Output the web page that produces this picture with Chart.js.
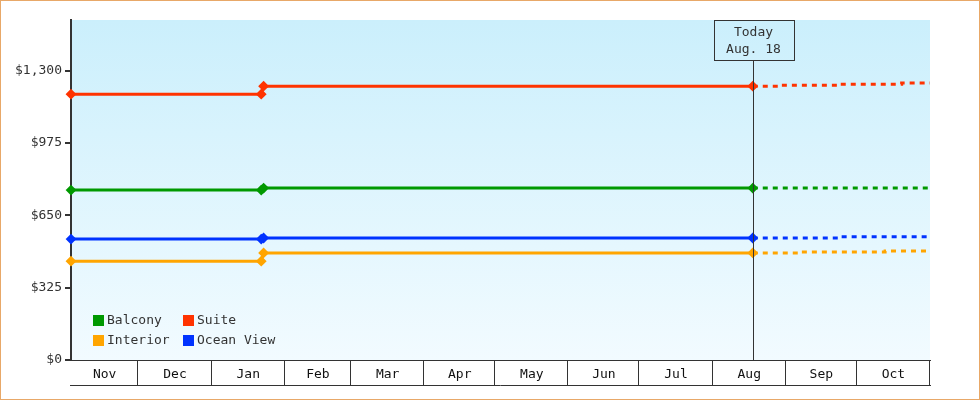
<!DOCTYPE html>
<html>
<head>
<meta charset="utf-8">
<script src="https://cdn.jsdelivr.net/npm/chart.js@4.4.1/dist/chart.umd.min.js"></script>
<style>
  html, body { margin: 0; padding: 0; background: #ffffff; }
  #wrap { width: 980px; height: 400px; }
</style>
</head>
<body>
<div id="wrap"><canvas id="c" width="980" height="400"></canvas></div>
<script>
// ---------- data ----------
const monthLabels = ['Nov', 'Dec', 'Jan', 'Feb', 'Mar', 'Apr', 'May', 'Jun', 'Jul', 'Aug', 'Sep', 'Oct'];
const monthDays = [30, 31, 31, 28, 31, 30, 31, 30, 31, 31, 30, 31];
const xStartDay = 1.5;   // axis starts a little after Nov 1

const yTickValues = [0, 325, 650, 975, 1300];
const yTickLabels = ['$0', '$325', '$650', '$975', '$1,300'];
const yMax = 1527;

const seriesNames = ['Balcony', 'Suite', 'Interior', 'Ocean View'];
const seriesColors = ['#009900', '#ff3300', '#ffa500', '#0033ff'];

// history (day offset from Nov 1)
const historyDays = [1.5, 82, 83, 290];
const balcony = [763, 763, 772, 772];
const suite = [1194, 1194, 1230, 1230];
const interior = [444, 444, 481, 481];
const oceanView = [543, 543, 548, 548];

// projections (dashed, after today)
const balconyProjDays = [290, 365];
const balconyProj = [772, 772];
const suiteProjDays = [290, 302, 327, 353, 365];
const suiteProj = [1230, 1234, 1239, 1244, 1244];
const interiorProjDays = [290, 310, 346, 365];
const interiorProj = [481, 485, 489, 489];
const oceanViewProjDays = [290, 327, 365];
const oceanViewProj = [548, 553, 553];

const todayDay = 290;
const todayLines = ['Today', 'Aug. 18'];

// ---------- helpers ----------
const FONT = "'DejaVu Sans Mono', 'Liberation Mono', monospace";
const INK = '#333333';

const monthStarts = [];
{
  let acc = 0;
  monthDays.forEach(d => { monthStarts.push(acc); acc += d; });
  monthStarts.push(acc);
}
const totalDays = monthStarts[monthStarts.length - 1];
const monthMids = monthLabels.map((_, i) => (Math.max(monthStarts[i], xStartDay) + monthStarts[i + 1]) / 2);

function pts(days, vals) { return days.map((d, i) => ({ x: d, y: vals[i] })); }

const histVals = [balcony, suite, interior, oceanView];
const projDays = [balconyProjDays, suiteProjDays, interiorProjDays, oceanViewProjDays];
const projVals = [balconyProj, suiteProj, interiorProj, oceanViewProj];

const datasets = [];
seriesNames.forEach((name, i) => {
  datasets.push({
    label: name,
    data: pts(historyDays, histVals[i]),
    borderColor: seriesColors[i],
    backgroundColor: seriesColors[i],
    borderWidth: 3,
    pointStyle: 'rectRot',
    pointRadius: 4,
    pointBorderWidth: 2,
    pointHoverRadius: 4,
    tension: 0,
    fill: false,
    clip: false,
    isLegend: true
  });
  datasets.push({
    label: name + ' projection',
    data: pts(projDays[i], projVals[i]),
    borderColor: seriesColors[i],
    backgroundColor: seriesColors[i],
    borderWidth: 3,
    borderDash: [5, 5],
    pointRadius: 0,
    stepped: true,
    fill: false,
    isLegend: false
  });
});

// ---------- plugins ----------
const bgPlugin = {
  id: 'bg',
  beforeDraw(chart) {
    const { ctx, chartArea: a } = chart;
    ctx.save();
    ctx.fillStyle = '#ffffff';
    ctx.fillRect(0, 0, chart.width, chart.height);
    const g = ctx.createLinearGradient(0, a.top, 0, a.bottom);
    g.addColorStop(0, '#cbeffc');
    g.addColorStop(1, '#f2fbff');
    ctx.fillStyle = g;
    ctx.fillRect(a.left, a.top, a.right - a.left, a.bottom - a.top);
    ctx.restore();
  }
};

const overlayPlugin = {
  id: 'overlay',
  afterDatasetsDraw(chart) {
    const { ctx, chartArea: a, scales } = chart;
    const xs = scales.x;
    ctx.save();
    // today line + box
    const tx = Math.round(xs.getPixelForValue(todayDay)) + 0.5;
    const boxW = 80, boxH = 40;
    const bx = Math.round(tx - boxW / 2), by = a.top;
    ctx.strokeStyle = INK;
    ctx.lineWidth = 1;
    ctx.beginPath();
    ctx.moveTo(tx, by + boxH);
    ctx.lineTo(tx, a.bottom);
    ctx.stroke();
    ctx.strokeRect(bx + 0.5, by + 0.5, boxW, boxH);
    ctx.fillStyle = INK;
    ctx.font = '13px ' + FONT;
    ctx.textAlign = 'center';
    ctx.textBaseline = 'middle';
    ctx.fillText(todayLines[0], tx, by + 13);
    ctx.fillText(todayLines[1], tx, by + 30);

    // month box below axis
    const y0 = a.bottom, y1 = a.bottom + 25;
    ctx.beginPath();
    ctx.moveTo(a.left - 1, y1 + 0.5);
    ctx.lineTo(a.right + 1, y1 + 0.5);
    for (let i = 1; i < monthStarts.length; i++) {
      const px = Math.round(xs.getPixelForValue(monthStarts[i])) - 0.5;
      ctx.moveTo(px, y0);
      ctx.lineTo(px, y1);
    }
    ctx.stroke();

    // legend inside chart area
    const items = chart.data.datasets.filter(d => d.isLegend);
    const colX = [a.left + 22, a.left + 112];
    const rowY = [a.bottom - 45, a.bottom - 25];
    ctx.textAlign = 'left';
    ctx.textBaseline = 'middle';
    items.forEach((d, i) => {
      const cx = colX[i % 2], cy = rowY[Math.floor(i / 2)];
      ctx.fillStyle = d.borderColor;
      ctx.fillRect(cx, cy, 11, 11);
      ctx.fillStyle = INK;
      ctx.fillText(d.label, cx + 14, cy + 6);
    });

    ctx.restore();
  },
  afterDraw(chart) {
    const { ctx } = chart;
    ctx.save();
    ctx.strokeStyle = '#e8a868';
    ctx.lineWidth = 1;
    ctx.strokeRect(0.5, 0.5, chart.width - 1, chart.height - 1);
    ctx.restore();
  }
};

// ---------- chart ----------
new Chart(document.getElementById('c'), {
  type: 'line',
  data: { datasets },
  options: {
    responsive: false,
    animation: false,
    devicePixelRatio: 1,
    layout: { padding: { top: 20, right: 50, left: 0, bottom: 0 } },
    plugins: {
      legend: { display: false },
      tooltip: { enabled: false }
    },
    scales: {
      x: {
        type: 'linear',
        min: xStartDay,
        max: totalDays,
        afterBuildTicks(scale) { scale.ticks = monthMids.map(v => ({ value: v })); },
        afterFit(scale) { scale.height = 40; },
        ticks: {
          autoSkip: false,
          maxRotation: 0,
          padding: -1,
          color: '#111111',
          font: { family: FONT, size: 13 },
          callback(value, index) { return monthLabels[index]; }
        },
        grid: { display: false, drawOnChartArea: false },
        border: { display: true, color: INK, width: 1 }
      },
      y: {
        type: 'linear',
        min: 0,
        max: yMax,
        afterBuildTicks(scale) { scale.ticks = yTickValues.map(v => ({ value: v })); },
        afterFit(scale) { scale.width = 71; },
        ticks: {
          autoSkip: false,
          padding: 3,
          color: INK,
          font: { family: FONT, size: 13 },
          callback(value, index) { return yTickLabels[index]; }
        },
        grid: { drawOnChartArea: false, drawTicks: true, tickLength: 6, color: INK, lineWidth: 2 },
        border: { display: true, color: INK, width: 2 }
      }
    }
  },
  plugins: [bgPlugin, overlayPlugin]
});
</script>
</body>
</html>
